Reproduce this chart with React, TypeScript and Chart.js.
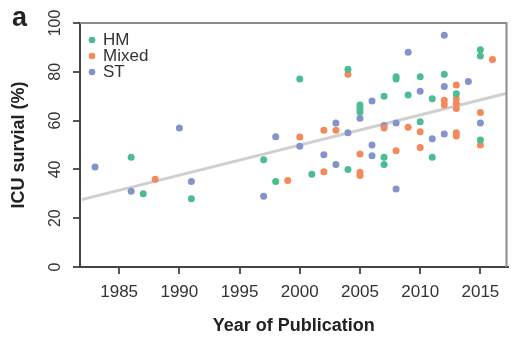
import React, { useEffect, useRef } from "react";
import { Chart, registerables } from "chart.js";

Chart.register(...registerables);

// Study-level ICU survival (%) by year of publication, split by patient group
const hmYears = [1986, 1987, 1991, 1997, 1998, 2000, 2001, 2004, 2004, 2005, 2005, 2005, 2007, 2007, 2007, 2008, 2008, 2009, 2010, 2010, 2011, 2011, 2012, 2013, 2015, 2015, 2015];
const hmSurvival = [45, 30, 28, 44, 35, 77, 38, 81, 40, 66.4, 65, 63.5, 70, 45, 42, 78, 77, 70.5, 78, 59.5, 69, 45, 79, 71, 89, 86.5, 52];

const mixedYears = [1988, 1999, 2000, 2002, 2002, 2003, 2004, 2005, 2005, 2005, 2007, 2008, 2009, 2010, 2010, 2012, 2012, 2013, 2013, 2013, 2013, 2013, 2013, 2015, 2015, 2016];
const mixedSurvival = [36, 35.4, 53.3, 56, 39, 56, 79, 46.3, 38.8, 37.5, 57, 47.6, 57.3, 55.4, 49, 68.3, 66.4, 74.6, 69, 67, 65, 55, 53.7, 63.3, 50, 85];

const stYears = [1983, 1986, 1990, 1991, 1997, 1998, 2000, 2002, 2003, 2003, 2004, 2005, 2006, 2006, 2006, 2007, 2008, 2008, 2009, 2010, 2011, 2012, 2012, 2012, 2014, 2015];
const stSurvival = [41, 31, 57, 35, 29, 53.4, 49.5, 46, 59, 42, 55, 61, 68, 50, 45.6, 58, 59, 32, 88, 72, 52.6, 95, 74, 54.5, 76, 59];

// Fitted linear trend, end points
const trendYears = [1981.9, 2017.2];
const trendSurvival = [27.6, 71.2];

const groupLabels = ["HM", "Mixed", "ST"];
const groupColors = ["#4cbd91", "#f6895c", "#8593cc"];

const yearTicks = [1985, 1990, 1995, 2000, 2005, 2010, 2015];
const survivalTicks = [0, 20, 40, 60, 80, 100];

const FONT = "'Liberation Sans', Arial, Helvetica, sans-serif";

const toPoints = (xs: number[], ys: number[]) => xs.map((x, i) => ({ x, y: ys[i] }));

// Draws the inset legend in the upper-left corner of the plot area
const cornerLegend = {
  id: "cornerLegend",
  afterDraw(chart: any) {
    const { ctx, chartArea } = chart;
    ctx.save();
    ctx.font = `17px ${FONT}`;
    ctx.textBaseline = "middle";
    ctx.textAlign = "left";
    let row = 0;
    chart.data.datasets.forEach((ds: any) => {
      if (ds.showLine) return;
      const y = chartArea.top + 17 + row * 16;
      ctx.fillStyle = ds.backgroundColor;
      ctx.beginPath();
      ctx.arc(chartArea.left + 12, y, 3.3, 0, Math.PI * 2);
      ctx.fill();
      ctx.fillStyle = "#333";
      ctx.fillText(ds.label, chartArea.left + 23, y);
      row++;
    });
    ctx.restore();
  },
};

// Top and right edges of the plot frame, plus the panel letter
const frameAndPanel = {
  id: "frameAndPanel",
  afterDraw(chart: any) {
    const { ctx, chartArea } = chart;
    ctx.save();
    ctx.strokeStyle = "#8c8c8c";
    ctx.lineWidth = 2;
    ctx.beginPath();
    ctx.moveTo(chartArea.left, chartArea.top);
    ctx.lineTo(chartArea.right - 1, chartArea.top);
    ctx.lineTo(chartArea.right - 1, chartArea.bottom);
    ctx.stroke();
    ctx.fillStyle = "#222";
    ctx.font = `bold 27px ${FONT}`;
    ctx.textBaseline = "alphabetic";
    ctx.textAlign = "left";
    ctx.fillText("a", 12, 26);
    ctx.restore();
  },
};

export default function App() {
  const canvasRef = useRef<HTMLCanvasElement | null>(null);

  useEffect(() => {
    if (!canvasRef.current) return;
    const scatterSets = [
      toPoints(hmYears, hmSurvival),
      toPoints(mixedYears, mixedSurvival),
      toPoints(stYears, stSurvival),
    ].map((data, i) => ({
      label: groupLabels[i],
      data,
      backgroundColor: groupColors[i],
      borderWidth: 0,
      pointRadius: 3.5,
      pointHoverRadius: 3.5,
      order: 1,
    }));

    const chart = new Chart(canvasRef.current, {
      type: "scatter",
      data: {
        datasets: [
          {
            label: "Trend",
            data: toPoints(trendYears, trendSurvival),
            showLine: true,
            borderColor: "#cfcfcf",
            borderWidth: 3,
            pointRadius: 0,
            order: 5,
          } as any,
          ...scatterSets,
        ],
      },
      options: {
        responsive: false,
        animation: false,
        layout: { padding: { top: 23, right: 1, left: 0, bottom: 0 } },
        plugins: {
          legend: { display: false },
          tooltip: { enabled: false },
        },
        scales: {
          x: {
            type: "linear",
            min: 1981.75,
            max: 2017.25,
            afterBuildTicks: (scale: any) => {
              scale.ticks = yearTicks.map((v) => ({ value: v }));
            },
            afterFit: (scale: any) => {
              scale.height = 71;
            },
            ticks: {
              callback: (v: any) => String(v),
              color: "#333",
              font: { family: FONT, size: 17 },
              padding: 8,
              maxRotation: 0,
            },
            grid: {
              display: true,
              drawOnChartArea: false,
              drawTicks: true,
              tickLength: 7,
              color: "#555",
              lineWidth: 2,
            },
            border: { display: true, color: "#444", width: 2 },
            title: {
              display: true,
              text: "Year of Publication",
              color: "#222",
              font: { family: FONT, size: 18, weight: "bold" },
              padding: { top: 0, bottom: 1 },
            },
          },
          y: {
            type: "linear",
            min: 0,
            max: 100,
            afterBuildTicks: (scale: any) => {
              scale.ticks = survivalTicks.map((v) => ({ value: v }));
            },
            afterFit: (scale: any) => {
              scale.width = 80;
            },
            ticks: {
              color: "#333",
              font: { family: FONT, size: 16 },
              minRotation: 90,
              maxRotation: 90,
              crossAlign: "center",
              padding: 4,
            },
            grid: {
              display: true,
              drawOnChartArea: false,
              drawTicks: true,
              tickLength: 7,
              color: "#555",
              lineWidth: 2,
            },
            border: { display: true, color: "#444", width: 2 },
            title: {
              display: true,
              text: "ICU survial (%)",
              color: "#222",
              font: { family: FONT, size: 18, weight: "bold" },
              padding: { top: 8, bottom: 0 },
            },
          },
        },
      },
      plugins: [cornerLegend, frameAndPanel],
    });

    return () => chart.destroy();
  }, []);

  return (
    <div style={{ position: "fixed", left: 0, top: 0, width: 511, height: 338, background: "#fff" }}>
      <canvas ref={canvasRef} width={511} height={338} />
    </div>
  );
}
